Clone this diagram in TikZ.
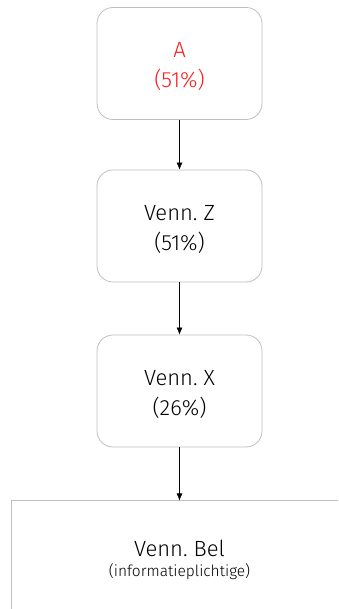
\documentclass[tikz,border=0pt]{standalone}
\usepackage{fontspec}
\setmainfont{Fira Sans}[UprightFont=* Light]
\usetikzlibrary{arrows.meta}
\definecolor{boxgray}{HTML}{BFBFBF}
\definecolor{redtxt}{HTML}{FF1A1A}
\tikzset{
  x=1pt,y=1pt,
  entbox/.style={draw=boxgray,line width=0.8pt,rounded corners=16pt,minimum width=165pt,minimum height=112pt},
  boxtext/.style={label={[align=center,font=\fontsize{22}{30}\selectfont,text=#1,yshift=-3pt]center:\boxcontent}},
  conn/.style={-{Latex[length=7pt,width=6pt]},line width=0.6pt,black}
}
\begin{document}
\begin{tikzpicture}
\useasboundingbox (0,0) rectangle (338,609);
\node[entbox,label={[align=center,font=\fontsize{22}{30}\selectfont,text=redtxt,yshift=-3pt]center:A\\(51\%)}] (a) at (179.5,545.5) {};
\node[entbox,label={[align=center,font=\fontsize{22}{30}\selectfont,text=black,yshift=-3pt]center:Venn.\ Z\\(51\%)}] (z) at (179.5,383) {};
\node[entbox,label={[align=center,font=\fontsize{22}{30}\selectfont,text=black,yshift=-3pt]center:Venn.\ X\\(26\%)}] (x) at (179.5,218) {};
\coordinate (bl) at (11,0);
\coordinate (tl) at (11,108.5);
\coordinate (tr) at (338,108.5);
\coordinate (btop) at (179.5,108.5);
\draw[boxgray,line width=0.8pt] (bl) -- (tl) -- (tr);
\node[font=\fontsize{22}{24}\selectfont,text=black] (bel) at (179.5,61) {Venn.\ Bel};
\node[font=\fontsize{15.5}{18}\selectfont,text=black] (belsub) at (179.5,37) {(informatieplichtige)};
\draw[conn] (a) -- (z);
\draw[conn] (z) -- (x);
\draw[conn] (x) -- (btop);
\end{tikzpicture}
\end{document}
